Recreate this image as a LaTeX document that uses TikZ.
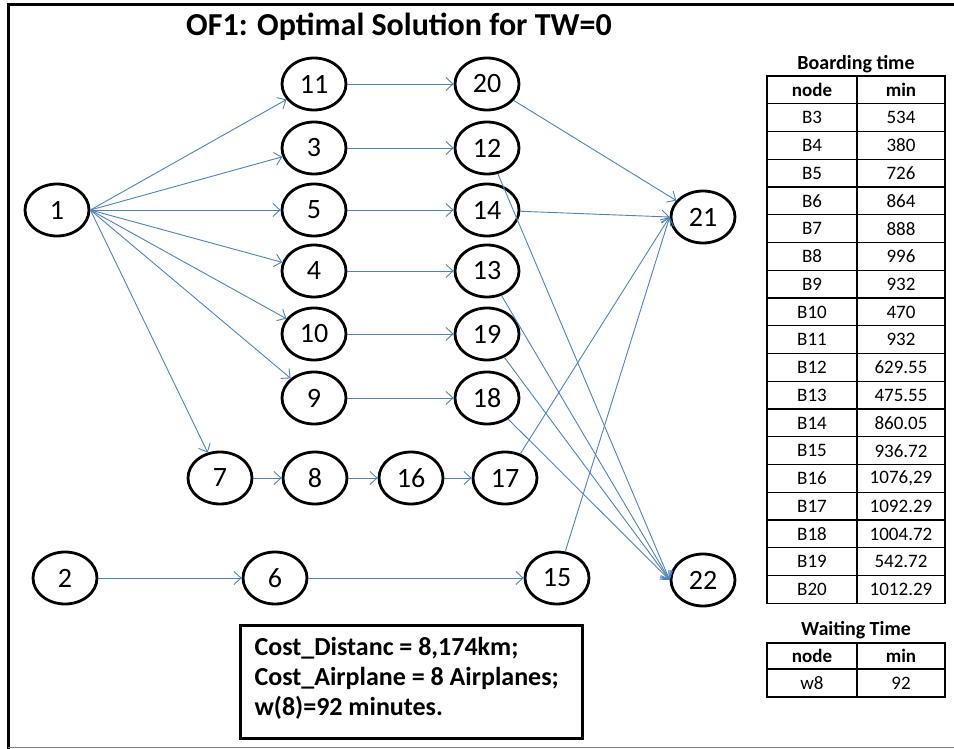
\documentclass[tikz,border=0pt]{standalone}
\usepackage{fontspec}
\setmainfont{Carlito}
\usetikzlibrary{shapes.geometric,arrows.meta}
\definecolor{linkblue}{RGB}{79,129,189}
\tikzset{
  stop/.style={ellipse,draw,line width=2.8pt,minimum width=64pt,minimum height=52pt,
    inner sep=0pt,font=\fontsize{28}{30}\selectfont},
  link/.style={linkblue,line width=0.9pt,-{Straight Barb[length=7pt,width=13pt]}},
  cell/.style={font=\fontsize{19}{21}\selectfont},
  headcell/.style={font=\bfseries\fontsize{19}{21}\selectfont},
}

\begin{document}
\begin{tikzpicture}[x=1pt,y=-1pt]
\useasboundingbox (0,0) rectangle (954,749);
\draw[line width=3pt] (8,749) -- (8,5) -- (954,5);
\draw[gray,line width=1.5pt] (8,747.5) -- (954,747.5);
\node[font=\bfseries\fontsize{32}{34}\selectfont] (title) at (399,27) {OF1: Optimal Solution for TW=0};

% flight nodes
\node[stop] (n1) at (57,210) {1};
\node[stop] (n2) at (65,578) {2};
\foreach \name/\y in {11/84,3/148,5/210,4/271,10/334,9/398}
  \node[stop] (n\name) at (314,\y) {\name};
\foreach \name/\y in {20/84,12/148,14/210,13/271,19/334,18/398}
  \node[stop] (n\name) at (487,\y) {\name};
\node[stop] (n7) at (220,478) {7};
\node[stop] (n8) at (315,478) {8};
\node[stop] (n16) at (411,478) {16};
\node[stop] (n17) at (505,478) {17};
\node[stop] (n6) at (275,578) {6};
\node[stop] (n15) at (557,578) {15};
\node[stop] (n21) at (703,217) {21};
\node[stop] (n22) at (703,580) {22};

% arcs
\foreach \to in {11,3,5,4,10,9,7}
  \draw[link] (n1.east) -- (n\to);
\foreach \from/\to in {11/20,3/12,5/14,4/13,10/19,9/18,7/8,8/16,16/17,2/6,6/15}
  \draw[link] (n\from) -- (n\to);
\draw[link] (n20) -- (n21);
\foreach \from in {14,17,15}
  \draw[link] (n\from) -- (n21.west);
\foreach \from in {12,13,19,18}
  \draw[link] (n\from) -- (n22.west);

% summary box
\draw[line width=3pt] (240,625) rectangle (582,738);
\node[anchor=north west,align=left,font=\bfseries\fontsize{26}{30}\selectfont] (cost) at (251,634)
  {Cost\_Distanc = 8,174km;\\ Cost\_Airplane = 8 Airplanes;\\ w(8)=92 minutes.};

% boarding table
\node[font=\bfseries\fontsize{20}{22}\selectfont] (board) at (856,64) {Boarding time};
\draw[line width=1.4pt] (767,76) rectangle (945,603.5);
\draw[line width=1.2pt] (857,76) -- (857,603.5);
\node[headcell] (bnode) at (812,90) {node};
\node[headcell] (bmin) at (901,90) {min};
\foreach \b/\m [count=\i] in {B3/534,B4/380,B5/726,B6/864,B7/888,B8/996,B9/932,B10/470,
    B11/932,B12/629.55,B13/475.55,B14/860.05,B15/936.72,B16/{1076,29},B17/1092.29,
    B18/1004.72,B19/542.72,B20/1012.29} {
  \draw[line width=1.2pt] (767,76+27.75*\i) -- (945,76+27.75*\i);
  \node[cell] at (812,90+27.75*\i) {\b};
  \node[cell] at (901,90+27.75*\i) {\m};
}

% waiting table
\node[font=\bfseries\fontsize{20}{22}\selectfont] (wait) at (856,630) {Waiting Time};
\draw[line width=1.4pt] (767,643) rectangle (945,697);
\draw[line width=1.2pt] (857,643) -- (857,697) (767,669) -- (945,669);
\node[headcell] (wnode) at (812,656) {node};
\node[headcell] (wmin) at (901,656) {min};
\node[cell] (w8) at (812,683) {w8};
\node[cell] (w92) at (901,683) {92};
\end{tikzpicture}
\end{document}
